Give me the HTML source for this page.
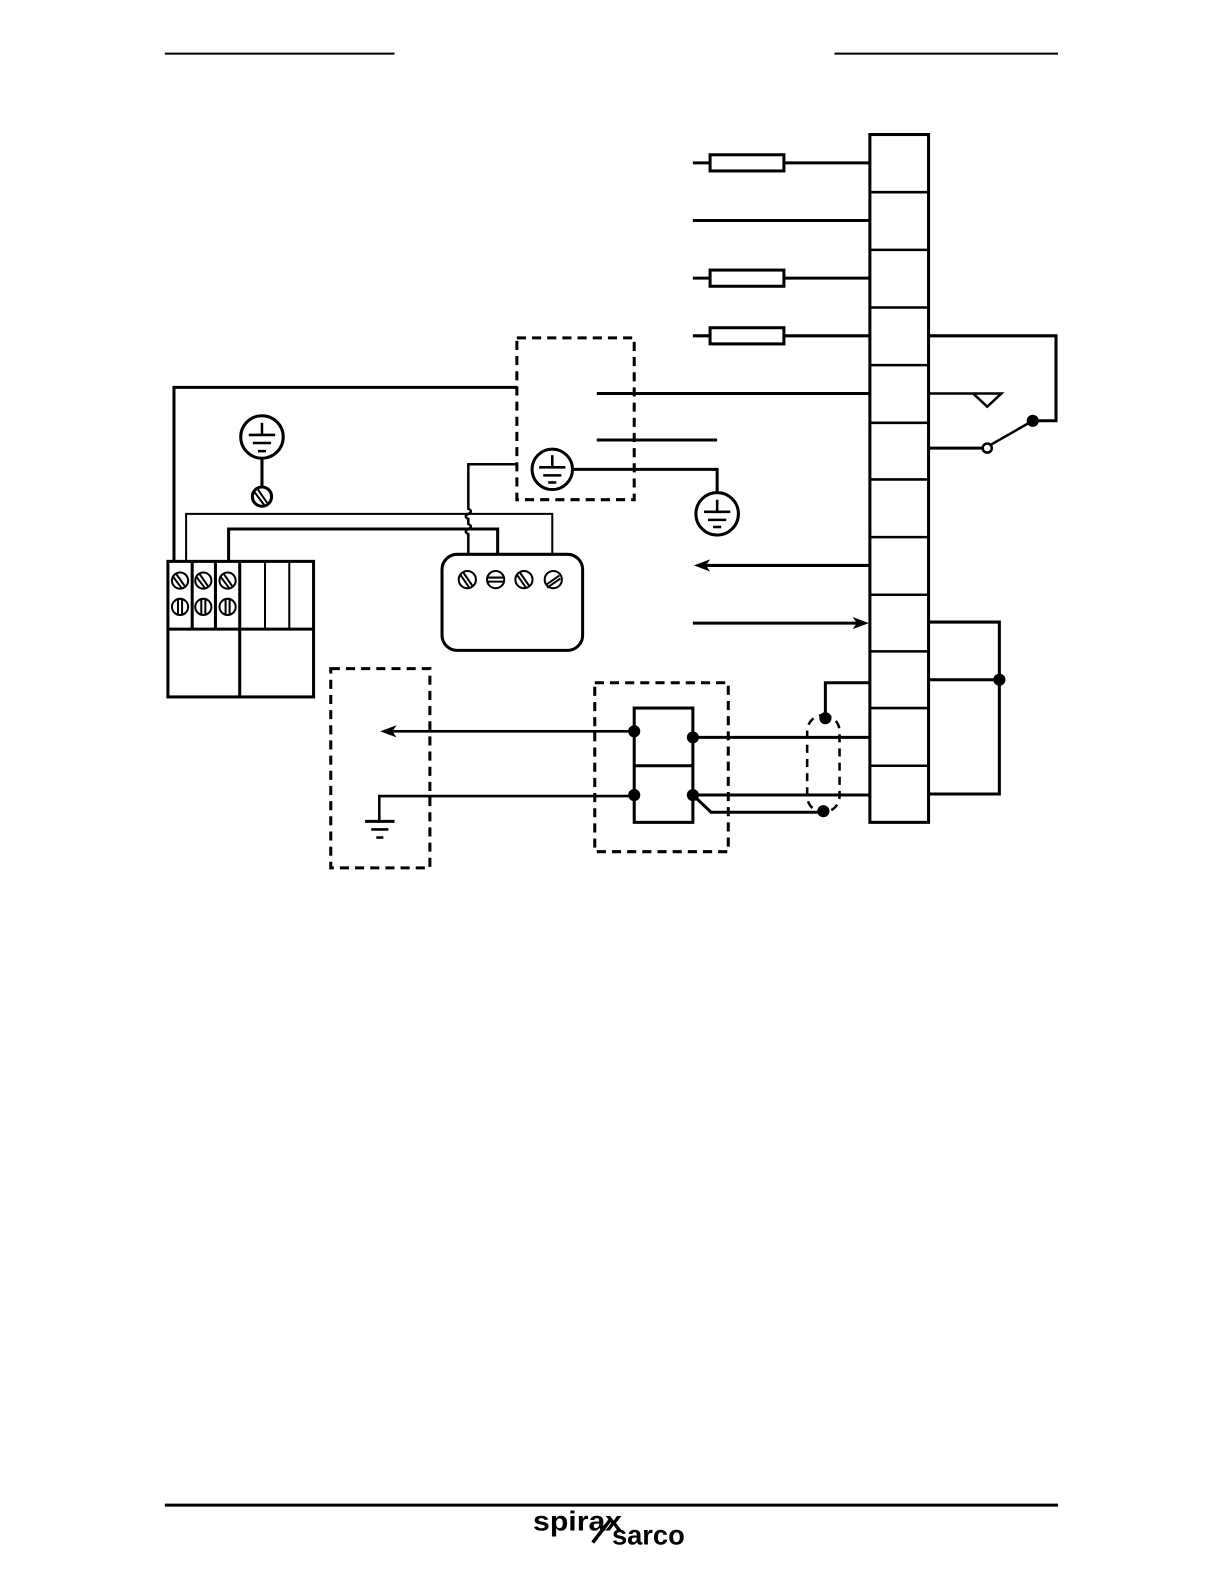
<!DOCTYPE html>
<html><head><meta charset="utf-8"><style>
html,body{margin:0;padding:0;background:#fff;}
svg{display:block;}
</style></head><body>
<svg width="1225" height="1585" viewBox="0 0 1225 1585" xmlns="http://www.w3.org/2000/svg" fill="none" stroke="#000" stroke-width="3">
<g transform="scale(1.0115)">
<!-- header/footer rules -->
<line x1="163" y1="53" x2="390" y2="53" stroke-width="2"/>
<line x1="825" y1="53" x2="1046" y2="53" stroke-width="2"/>
<line x1="163" y1="1488" x2="1046" y2="1488" stroke-width="3"/>
<text x="527" y="1513" textLength="88" lengthAdjust="spacingAndGlyphs" font-family="Liberation Sans, sans-serif" font-weight="bold" font-size="27" fill="#000" stroke="none">spirax</text>
<text x="605" y="1527" textLength="72" lengthAdjust="spacingAndGlyphs" font-family="Liberation Sans, sans-serif" font-weight="bold" font-size="27" fill="#000" stroke="none">sarco</text>
<line x1="603" y1="1503" x2="586" y2="1525" stroke-width="3.5"/>

<!-- terminal strip -->
<rect x="860" y="133" width="58" height="680"/>
<g stroke-width="2.5">
<line x1="860" y1="190" x2="918" y2="190"/><line x1="860" y1="247" x2="918" y2="247"/>
<line x1="860" y1="304" x2="918" y2="304"/><line x1="860" y1="361" x2="918" y2="361"/>
<line x1="860" y1="418" x2="918" y2="418"/><line x1="860" y1="474" x2="918" y2="474"/>
<line x1="860" y1="531" x2="918" y2="531"/><line x1="860" y1="588" x2="918" y2="588"/>
<line x1="860" y1="644" x2="918" y2="644"/><line x1="860" y1="700" x2="918" y2="700"/>
<line x1="860" y1="757" x2="918" y2="757"/>
</g>

<!-- fuses and feed lines -->
<line x1="685" y1="161" x2="860" y2="161"/><rect x="702" y="153" width="73" height="16" fill="#fff"/>
<line x1="685" y1="218" x2="860" y2="218"/>
<line x1="685" y1="275" x2="860" y2="275"/><rect x="702" y="267" width="73" height="16" fill="#fff"/>
<line x1="685" y1="332" x2="860" y2="332"/><rect x="702" y="324" width="73" height="16" fill="#fff"/>
<line x1="590" y1="389" x2="860" y2="389"/>
<line x1="590" y1="435" x2="709" y2="435"/>

<!-- dashed box top -->
<rect x="511" y="334" width="116" height="160" stroke-dasharray="9,6"/>
<circle cx="546" cy="464" r="20"/>
<g stroke-width="2.5"><line x1="546" y1="450" x2="546" y2="462"/><line x1="533" y1="462" x2="559" y2="462"/><line x1="537" y1="470" x2="555" y2="470"/><line x1="542" y1="477" x2="550" y2="477"/></g>
<polyline points="566,464 709,464 709,488"/>
<circle cx="709" cy="508" r="21"/>
<g stroke-width="2.5"><line x1="709" y1="494" x2="709" y2="506"/><line x1="696" y1="506" x2="722" y2="506"/><line x1="700" y1="514" x2="718" y2="514"/><line x1="705" y1="521" x2="713" y2="521"/></g>

<!-- left wiring -->
<polyline points="511,383 172,383 172,555"/>
<circle cx="259" cy="432" r="21"/>
<g stroke-width="2.5"><line x1="259" y1="418" x2="259" y2="430"/><line x1="246" y1="430" x2="272" y2="430"/><line x1="250" y1="438" x2="268" y2="438"/><line x1="255" y1="446" x2="263" y2="446"/></g>
<line x1="259" y1="453" x2="259" y2="481"/>
<circle cx="259" cy="491" r="9.5"/><line x1="255" y1="484" x2="264" y2="497" stroke-width="2"/><line x1="252" y1="487" x2="261" y2="499" stroke-width="2"/>
<polyline points="184,555 184,508 546,508 546,548" stroke-width="2"/>
<polyline points="226,555 226,523 492,523 492,548"/>
<path d="M511,459 H463 V503 q5,2.5 0,5 q-5,2.5 0,5 V518 q5,2.5 0,5 q-5,2.5 0,5 V548" stroke-width="2.5"/>

<!-- terminal block -->
<rect x="166" y="555" width="144" height="134"/>
<line x1="166" y1="622" x2="310" y2="622"/>
<line x1="190" y1="555" x2="190" y2="622"/><line x1="213" y1="555" x2="213" y2="622"/>
<line x1="237" y1="555" x2="237" y2="689"/><line x1="262" y1="555" x2="262" y2="622" stroke-width="2"/>
<line x1="286" y1="555" x2="286" y2="622" stroke-width="2"/>
<g stroke-width="2">
<circle cx="178" cy="574" r="8"/><line x1="174" y1="567" x2="183" y2="580"/><line x1="171" y1="570" x2="180" y2="582"/>
<circle cx="201" cy="574" r="8"/><line x1="197" y1="567" x2="206" y2="580"/><line x1="194" y1="570" x2="203" y2="582"/>
<circle cx="225" cy="574" r="8"/><line x1="221" y1="567" x2="230" y2="580"/><line x1="218" y1="570" x2="227" y2="582"/>
<circle cx="178" cy="600" r="8"/><line x1="176" y1="592" x2="176" y2="608"/><line x1="180" y1="592" x2="180" y2="608"/>
<circle cx="201" cy="600" r="8"/><line x1="199" y1="592" x2="199" y2="608"/><line x1="203" y1="592" x2="203" y2="608"/>
<circle cx="225" cy="600" r="8"/><line x1="223" y1="592" x2="223" y2="608"/><line x1="227" y1="592" x2="227" y2="608"/>
</g>

<!-- rounded box -->
<rect x="437" y="548" width="139" height="95" rx="15"/>
<g stroke-width="2">
<circle cx="462" cy="573" r="8.5"/><line x1="458" y1="566" x2="467" y2="579"/><line x1="455" y1="568" x2="464" y2="581"/>
<circle cx="490" cy="573" r="8.5"/><line x1="482" y1="571" x2="498" y2="571"/><line x1="482" y1="575" x2="498" y2="575"/>
<circle cx="518" cy="573" r="8.5"/><line x1="514" y1="566" x2="523" y2="579"/><line x1="511" y1="568" x2="520" y2="581"/>
<circle cx="547" cy="573" r="8.5"/><line x1="540" y1="578" x2="553" y2="569"/><line x1="541" y1="581" x2="554" y2="572"/>
</g>

<!-- right side switch -->
<polyline points="918,332 1044,332 1044,416 1021,416"/>
<circle cx="1021" cy="416" r="4.5" fill="#000"/>
<line x1="1021" y1="416" x2="979" y2="440" stroke-width="2.5"/>
<line x1="918" y1="443" x2="971" y2="443"/>
<circle cx="976" cy="443" r="4.5" fill="#fff" stroke-width="2.5"/>
<polyline points="918,389 990,389 976,402 962,389" stroke-width="2.5"/>

<!-- arrows -->
<line x1="698" y1="559" x2="860" y2="559"/>
<polygon points="686,559 702,553 698,559 702,565" fill="#000" stroke="none"/>
<line x1="685" y1="616" x2="848" y2="616"/>
<polygon points="859,616 843,610 847,616 843,622" fill="#000" stroke="none"/>

<!-- right bracket -->
<polyline points="918,615 988,615 988,785 918,785"/>
<line x1="918" y1="672" x2="988" y2="672"/>
<circle cx="988" cy="672" r="4.5" fill="#000"/>

<!-- shield -->
<polyline points="860,675 816,675 816,710"/>
<circle cx="816" cy="710" r="4.5" fill="#000"/>
<rect x="798" y="707" width="32" height="96" rx="16" stroke-dasharray="8,6" stroke-width="2.5"/>
<line x1="685" y1="729" x2="860" y2="729"/>
<line x1="685" y1="786" x2="860" y2="786"/>
<polyline points="685,786 703,803 814,803"/>
<circle cx="814" cy="802" r="4.5" fill="#000"/>

<!-- isolator box -->
<rect x="588" y="675" width="132" height="167" stroke-dasharray="9,6"/>
<rect x="627" y="700" width="58" height="113" fill="none"/>
<line x1="627" y1="757" x2="685" y2="757"/>
<circle cx="627" cy="723" r="4.5" fill="#000"/><circle cx="685" cy="729" r="4.5" fill="#000"/>
<circle cx="627" cy="786" r="4.5" fill="#000"/><circle cx="685" cy="786" r="4.5" fill="#000"/>

<!-- left dashed receiver -->
<rect x="327" y="661" width="98" height="197" stroke-dasharray="9,6"/>
<line x1="388" y1="723" x2="627" y2="723" stroke-width="2.5"/>
<polygon points="376,723 392,717 388,723 392,729" fill="#000" stroke="none"/>
<polyline points="627,787 375,787 375,812" stroke-width="2.5"/>
<line x1="361" y1="812" x2="390" y2="812"/>
<line x1="367" y1="820" x2="384" y2="820" stroke-width="2.5"/>
<line x1="372" y1="828" x2="379" y2="828" stroke-width="2.5"/>
</g>
</svg>
</body></html>
